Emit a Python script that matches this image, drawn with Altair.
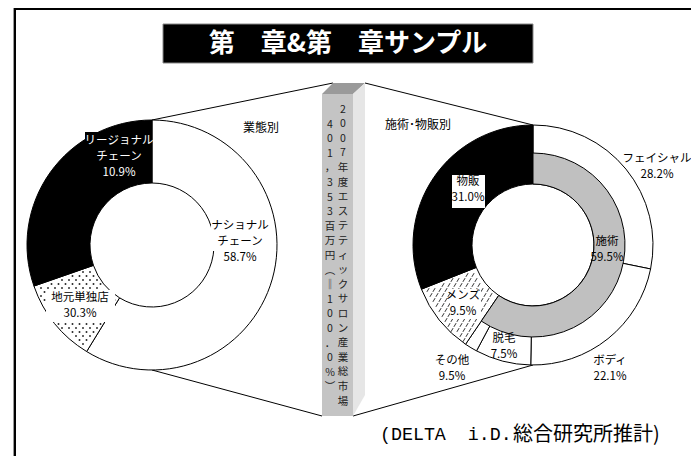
import math
import altair as alt
import pandas as pd

# ---------------- data ----------------
title_text = "第\u3000章&第\u3000章サンプル"
footer_latin = "(DELTA\u00a0\u00a0i.D."
footer_cjk = "総合研究所推計)"
bar_text_right = "2007年度エステティックサロン産業総市場"
bar_text_left = "401,353百万円（=100.0%）"

left_title = "業態別"
left_names = ["ナショナル\nチェーン", "地元単独店", "リージョナル\nチェーン"]
left_values = [58.7, 10.9, 30.3]          # slice sizes as drawn
left_pcts = ["58.7%", "30.3%", "10.9%"]   # percentages as printed

right_title = "施術･物販別"
right_outer_names = ["フェイシャル", "ボディ", "脱毛", "その他", "メンズ", "物販"]
right_outer_values = [28.2, 22.1, 7.5, 1.7, 9.5, 31.0]
right_outer_pcts = ["28.2%", "22.1%", "7.5%", "9.5%", "9.5%", "31.0%"]
right_inner_names = ["施術", "メンズ", "物販"]
right_inner_values = [59.5, 9.5, 31.0]
right_inner_pcts = ["59.5%", "9.5%", "31.0%"]

# ---------------- layout / style ----------------
W, H = 683, 448
OFF = 8
def P(v):
    return v - OFF

FONT = "Noto Sans CJK JP"
one = pd.DataFrame({"a": [0]})

left_fill = {"ナショナル\nチェーン": "white", "地元単独店": "white", "リージョナル\nチェーン": "black"}
outer_fill = {"フェイシャル": "white", "ボディ": "white", "脱毛": "white", "その他": "white",
              "メンズ": "white", "物販": "black"}
inner_fill = {"施術": "#c0c0c0", "メンズ": "transparent", "物販": "transparent"}

LCX, LCY, LRO, LRI = 152, 245, 125, 62
RCX, RCY, RRO, RRM, RRI = 533, 245, 120, 92, 61


def rule(x1, y1, x2, y2, color="black", w=1.0):
    return alt.Chart(one).mark_rule(color=color, strokeWidth=w).encode(
        x=alt.value(P(x1)), y=alt.value(P(y1)), x2=alt.value(P(x2)), y2=alt.value(P(y2)))


def rect(x1, y1, x2, y2, fill, stroke=None, w=0):
    kw = dict(fill=fill, strokeWidth=w)
    if stroke:
        kw["stroke"] = stroke
    return alt.Chart(one).mark_rect(**kw).encode(
        x=alt.value(P(x1)), y=alt.value(P(y1)), x2=alt.value(P(x2)), y2=alt.value(P(y2)))


def area(pts, fill):
    df = pd.DataFrame([{"x": P(a), "y": P(b), "y2": P(c)} for a, b, c in pts])
    return alt.Chart(df).mark_area(fill=fill, interpolate="linear").encode(
        x=alt.X("x:Q", scale=None, axis=None),
        y=alt.Y("y:Q", scale=None, axis=None),
        y2="y2:Q")


def donut(names, values, fills, cx, cy, ri, ro, strokeop=None):
    df = pd.DataFrame({"name": names, "value": values, "ord": list(range(len(names))),
                       "fill": [fills[n] for n in names]})
    enc = dict(
        theta=alt.Theta("value:Q", stack=True),
        order=alt.Order("ord:Q"),
        color=alt.Color("fill:N", scale=None),
        x=alt.value(P(cx)), y=alt.value(P(cy)),
    )
    if strokeop is not None:
        df["sop"] = [strokeop[n] for n in names]
        enc["strokeOpacity"] = alt.StrokeOpacity("sop:Q", scale=None)
    return alt.Chart(df).mark_arc(innerRadius=ri, outerRadius=ro, stroke="black",
                                  strokeWidth=1).encode(**enc)


def slice_angles(values, idx):
    tot = sum(values)
    a0 = sum(values[:idx]) / tot * 2 * math.pi
    a1 = sum(values[:idx + 1]) / tot * 2 * math.pi
    return a0, a1


def pattern(cx, cy, ri, ro, a0, a1, sx, sy, shape, size, filled):
    ncol = int(2 * ro / sx) + 2
    nrow = int(2 * ro / sy) + 2
    ch = alt.Chart(alt.sequence(0, ncol * nrow, as_="i")).transform_calculate(
        col=f"datum.i % {ncol}",
        row=f"floor(datum.i / {ncol})",
    ).transform_calculate(
        px=f"{cx - ro} + datum.col * {sx} + (datum.row % 2) * {sx / 2}",
        py=f"{cy - ro} + datum.row * {sy}",
    ).transform_calculate(
        ddx=f"datum.px - {cx}", ddy=f"datum.py - {cy}",
    ).transform_calculate(
        rr="sqrt(datum.ddx * datum.ddx + datum.ddy * datum.ddy)",
        ang="(atan2(datum.ddx, -datum.ddy) + 2 * PI) % (2 * PI)",
    ).transform_filter(
        f"datum.rr > {ri + 2.5} && datum.rr < {ro - 2.5} && datum.ang > {a0 + 0.02} && datum.ang < {a1 - 0.02}"
    ).transform_calculate(
        X=f"datum.px - {OFF}", Y=f"datum.py - {OFF}"
    )
    if filled:
        mk = ch.mark_point(shape=shape, filled=True, size=size, color="black", opacity=1)
    else:
        mk = ch.mark_point(shape=shape, filled=False, size=size, color="black",
                           strokeWidth=0.8, opacity=1)
    return mk.encode(x=alt.X("X:Q", scale=None, axis=None),
                     y=alt.Y("Y:Q", scale=None, axis=None))


def labels(names, pcts, positions, lh=16, fs=11.5):
    df = pd.DataFrame({"idx": list(range(len(names))),
                       "label": [n + "\n" + p for n, p in zip(names, pcts)]})
    out = []
    for k, (x, y, col) in positions.items():
        out.append(alt.Chart(df).transform_filter(f"datum.idx == {k}").mark_text(
            align="center", baseline="top", lineBreak="\n", lineHeight=lh,
            font=FONT, fontSize=fs, color=col).encode(
            x=alt.value(P(x)), y=alt.value(P(y - 7)), text="label:N"))
    return out


def plain_text(txt, x, y, **kw):
    df = pd.DataFrame({"t": [txt]})
    return alt.Chart(df).mark_text(**kw).encode(
        x=alt.value(P(x)), y=alt.value(P(y)), text="t:N")


VERT = {"（": "︵", "）": "︶", "=": "‖", ",": "，", ".": "．"}
def vertical(s):
    return "\n".join(VERT.get(c, c) for c in s)


layers = []
# frame (left and top edges; the rest lies outside the picture)
layers.append(rule(13.5, 7.5, 13.5, 470, color="#999999", w=1))
layers.append(rule(13.5, 7.5, 700, 7.5, color="#999999", w=1))
layers.append(rule(15, 9, 15, 470, color="black", w=2))
layers.append(rule(14, 9, 700, 9, color="black", w=2))
# title
layers.append(rect(163, 24, 533, 63, "black", "#888888", 1))
layers.append(plain_text(title_text, 348, 44, align="center", baseline="middle",
                         font=FONT, fontSize=26, fontWeight="bold", color="white"))
# connecting lines
layers += [
    rule(LCX, LCY - LRO, 333, 83),
    rule(LCX, LCY + LRO, 322, 416),
    rule(365, 83, RCX, RCY - RRO),
    rule(353, 416, RCX, RCY + RRO),
]
# 3D bar
layers.append(rect(322, 94, 353, 416, "#c4c4c4"))
layers.append(area([(322, 94, 94), (333, 83, 94), (353, 83, 94), (365, 83, 83)], "#9a9a9a"))
layers.append(area([(353, 94, 416), (365, 83, 395)], "#e6e6e6"))
layers.append(plain_text(vertical(bar_text_right), 343, 104.5, align="center", baseline="top",
                         lineBreak="\n", lineHeight=14.6, font=FONT, fontSize=10.5, color="#222222"))
layers.append(plain_text(vertical(bar_text_left), 330, 119.5, align="center", baseline="top",
                         lineBreak="\n", lineHeight=14.6, font=FONT, fontSize=10.5, color="#222222"))

# left donut
layers.append(donut(left_names, left_values, left_fill, LCX, LCY, LRI, LRO))
a0, a1 = slice_angles(left_values, 1)
layers.append(pattern(LCX, LCY, LRI, LRO, a0, a1, 7, 4, "square", 2.5, True))

# right donut
layers.append(donut(right_outer_names, right_outer_values, outer_fill, RCX, RCY, RRI, RRO))
a0, a1 = slice_angles(right_outer_values, 4)
layers.append(pattern(RCX, RCY, RRI, RRO, a0, a1, 6, 5, "M -0.6 1 L 0.6 -1", 14, False))
layers.append(donut(right_inner_names, right_inner_values, inner_fill, RCX, RCY, RRI, RRM,
                    strokeop={"施術": 1, "メンズ": 0, "物販": 0}))

# label boxes
layers += [
    rect(85, 132, 152, 180, "black"),
    rect(211, 219, 268, 251, "white"),
    rect(46, 290, 115, 322, "white"),
    rect(452, 175, 485, 208, "white"),
    rect(450, 289, 481, 319, "white"),
]

# titles of donuts
layers.append(plain_text(left_title, 261, 128, align="center", baseline="middle",
                         font=FONT, fontSize=12, color="black"))
layers.append(plain_text(right_title, 385, 125, align="left", baseline="middle",
                         font=FONT, fontSize=12, color="black"))

# slice labels
layers += labels(left_names, left_pcts,
                 {0: (240, 227, "black"), 1: (80, 299, "black"), 2: (119, 142, "white")})
layers += labels(right_outer_names, right_outer_pcts,
                 {0: (657, 160, "black"), 1: (610, 362, "black"), 2: (504, 340, "black"),
                  3: (452, 362, "black"), 4: (463, 297, "black"), 5: (468, 183, "black")})
layers += labels(right_inner_names, right_inner_pcts, {0: (607, 243, "black")})

# footer
layers.append(plain_text(footer_latin, 380, 435, align="left", baseline="middle",
                         font="Liberation Mono", fontSize=18.3, color="black"))
layers.append(plain_text(footer_cjk, 513, 435, align="left", baseline="middle",
                         font=FONT, fontSize=20, color="black"))

chart = alt.layer(*layers).resolve_scale(theta="independent").properties(
    width=W, height=H,
    autosize=alt.AutoSizeParams(type="none"),
    padding=0,
    background="white",
).configure_view(stroke=None)

chart.save("out.html", embed_options={"renderer": "svg", "actions": False})
